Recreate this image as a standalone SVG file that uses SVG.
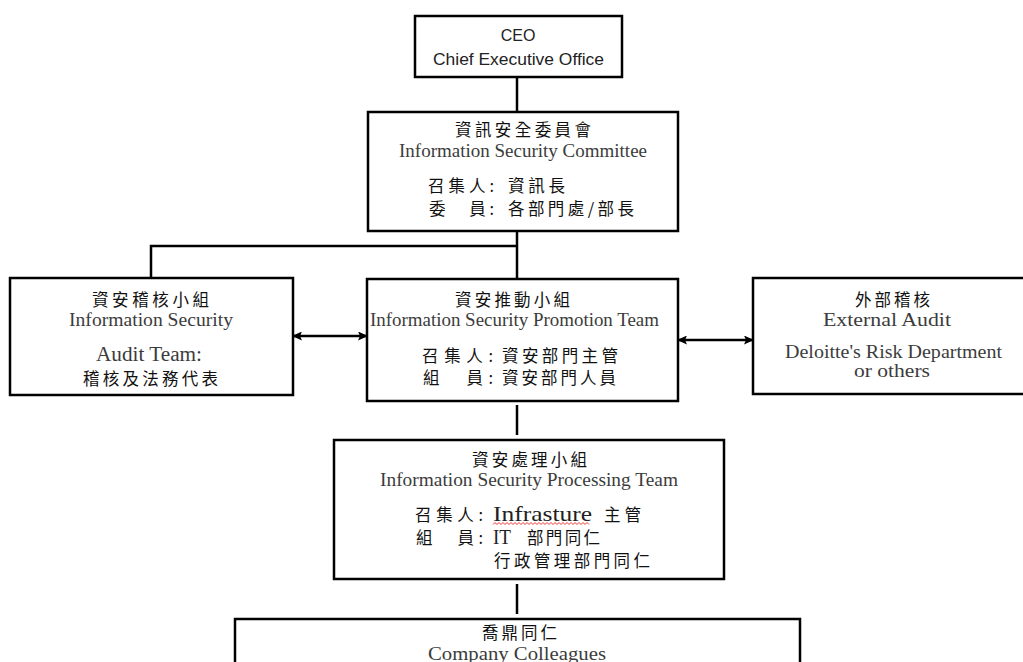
<svg xmlns="http://www.w3.org/2000/svg" width="1023" height="662" viewBox="0 0 1023 662">
<defs>
<style>
.box{fill:#fff;stroke:#000;stroke-width:2.5}
.ln{fill:none;stroke:#000;stroke-width:2.5}
.zh{font-family:"Noto Sans CJK TC","Noto Sans CJK SC",sans-serif;font-size:16.5px;fill:#111}
.en{font-family:"Liberation Serif","Noto Sans CJK TC",serif;font-size:18px;fill:#3c3c3c}
.ceo{font-family:"Liberation Sans","Noto Sans",sans-serif;font-size:16px;fill:#222}
.mid{text-anchor:middle}
</style>
<marker id="ah" markerUnits="userSpaceOnUse" markerWidth="10" markerHeight="9" refX="9" refY="4.5" orient="auto-start-reverse">
<path d="M0,0 L10,4.5 L0,9 L2,4.5 Z" fill="#000"/>
</marker>
</defs>

<g id="connectors">
<line class="ln" x1="517" y1="77" x2="517" y2="112"/>
<line class="ln" x1="517" y1="231" x2="517" y2="279"/>
<polyline class="ln" points="151,278 151,246 517,246"/>
<line class="ln" x1="293" y1="336" x2="367" y2="336" marker-start="url(#ah)" marker-end="url(#ah)"/>
<line class="ln" x1="678" y1="340" x2="753" y2="340" marker-start="url(#ah)" marker-end="url(#ah)"/>
<line class="ln" x1="517" y1="405" x2="517" y2="435"/>
<line class="ln" x1="517" y1="584" x2="517" y2="614"/>
</g>

<g id="ceo">
<rect class="box" x="415" y="16" width="207" height="61"/>
<text class="ceo mid" x="518" y="41">CEO</text>
<text class="ceo" x="433" y="65" textLength="171" lengthAdjust="spacingAndGlyphs">Chief Executive Office</text>
</g>

<g id="committee">
<rect class="box" x="368" y="112" width="310" height="119"/>
<text class="zh" x="455" y="136" textLength="136" lengthAdjust="spacing">資訊安全委員會</text>
<text class="en" x="399" y="157" textLength="248" lengthAdjust="spacingAndGlyphs">Information Security Committee</text>
<text class="zh" x="428" y="192" textLength="66" lengthAdjust="spacing">召集人:</text>
<text class="zh" x="508" y="192" textLength="57" lengthAdjust="spacing">資訊長</text>
<text class="zh" x="429" y="215" textLength="65" lengthAdjust="spacing">委　員:</text>
<text class="zh" x="508" y="215" textLength="126" lengthAdjust="spacing">各部門處/部長</text>
</g>

<g id="audit-team">
<rect class="box" x="10" y="278" width="283" height="117"/>
<text class="zh" x="92" y="306" textLength="117" lengthAdjust="spacing">資安稽核小組</text>
<text class="en" x="69" y="326" textLength="164" lengthAdjust="spacingAndGlyphs">Information Security</text>
<text class="en" x="96" y="361" textLength="106" lengthAdjust="spacingAndGlyphs" style="font-size:20px">Audit Team:</text>
<text class="zh" x="83" y="385" textLength="135" lengthAdjust="spacing">稽核及法務代表</text>
</g>

<g id="promotion-team">
<rect class="box" x="367" y="279" width="311" height="122"/>
<text class="zh" x="455" y="306" textLength="115" lengthAdjust="spacing">資安推動小組</text>
<text class="en" x="370" y="326" textLength="289" lengthAdjust="spacingAndGlyphs">Information Security Promotion Team</text>
<text class="zh" x="422" y="362" textLength="71" lengthAdjust="spacing">召集人:</text>
<text class="zh" x="502" y="362" textLength="116" lengthAdjust="spacing">資安部門主管</text>
<text class="zh" x="423" y="384" textLength="70" lengthAdjust="spacing">組　員:</text>
<text class="zh" x="502" y="384" textLength="114" lengthAdjust="spacing">資安部門人員</text>
</g>

<g id="external-audit">
<rect class="box" x="753" y="278" width="285" height="116"/>
<text class="zh" x="855" y="306" textLength="75" lengthAdjust="spacing">外部稽核</text>
<text class="en" x="823" y="326" textLength="128" lengthAdjust="spacingAndGlyphs">External Audit</text>
<text class="en" x="785" y="358" textLength="217" lengthAdjust="spacingAndGlyphs">Deloitte's Risk Department</text>
<text class="en" x="854" y="377" textLength="76" lengthAdjust="spacingAndGlyphs">or others</text>
</g>

<g id="processing-team">
<rect class="box" x="334" y="440" width="390" height="139"/>
<text class="zh" x="472" y="466" textLength="115" lengthAdjust="spacing">資安處理小組</text>
<text class="en" x="380" y="486" textLength="298" lengthAdjust="spacingAndGlyphs">Information Security Processing Team</text>
<text class="zh" x="415" y="521" textLength="68" lengthAdjust="spacing">召集人:</text>
<text class="en" x="493" y="521" textLength="99" lengthAdjust="spacingAndGlyphs" style="font-size:21px;fill:#222">Infrasture</text>
<path d="M493,524.5 l2,-2 l2,2 l2,-2 l2,2 l2,-2 l2,2 l2,-2 l2,2 l2,-2 l2,2 l2,-2 l2,2 l2,-2 l2,2 l2,-2 l2,2 l2,-2 l2,2 l2,-2 l2,2 l2,-2 l2,2 l2,-2 l2,2 l2,-2 l2,2 l2,-2 l2,2 l2,-2 l2,2 l2,-2 l2,2 l2,-2 l2,2 l2,-2 l2,2 l2,-2 l2,2 l2,-2 l2,2 l2,-2 l2,2 l2,-2 l2,2 l2,-2 l2,2 l2,-2 l2,2" fill="none" stroke="#e33" stroke-width="1"/>
<text class="zh" x="604" y="521" textLength="37" lengthAdjust="spacing">主管</text>
<text class="zh" x="416" y="544" textLength="67" lengthAdjust="spacing">組　員:</text>
<text class="en" x="493" y="544" textLength="18" lengthAdjust="spacingAndGlyphs" style="font-size:21px;fill:#222">IT</text>
<text class="zh" x="527" y="544" textLength="73" lengthAdjust="spacing">部門同仁</text>
<text class="zh" x="494" y="567" textLength="156" lengthAdjust="spacing">行政管理部門同仁</text>
</g>

<g id="company-colleagues">
<rect class="box" x="235" y="619" width="565" height="60"/>
<text class="zh" x="482" y="639" textLength="75" lengthAdjust="spacing">喬鼎同仁</text>
<text class="en" x="428" y="660" textLength="178" lengthAdjust="spacingAndGlyphs" style="font-size:18px">Company Colleagues</text>
</g>
</svg>
